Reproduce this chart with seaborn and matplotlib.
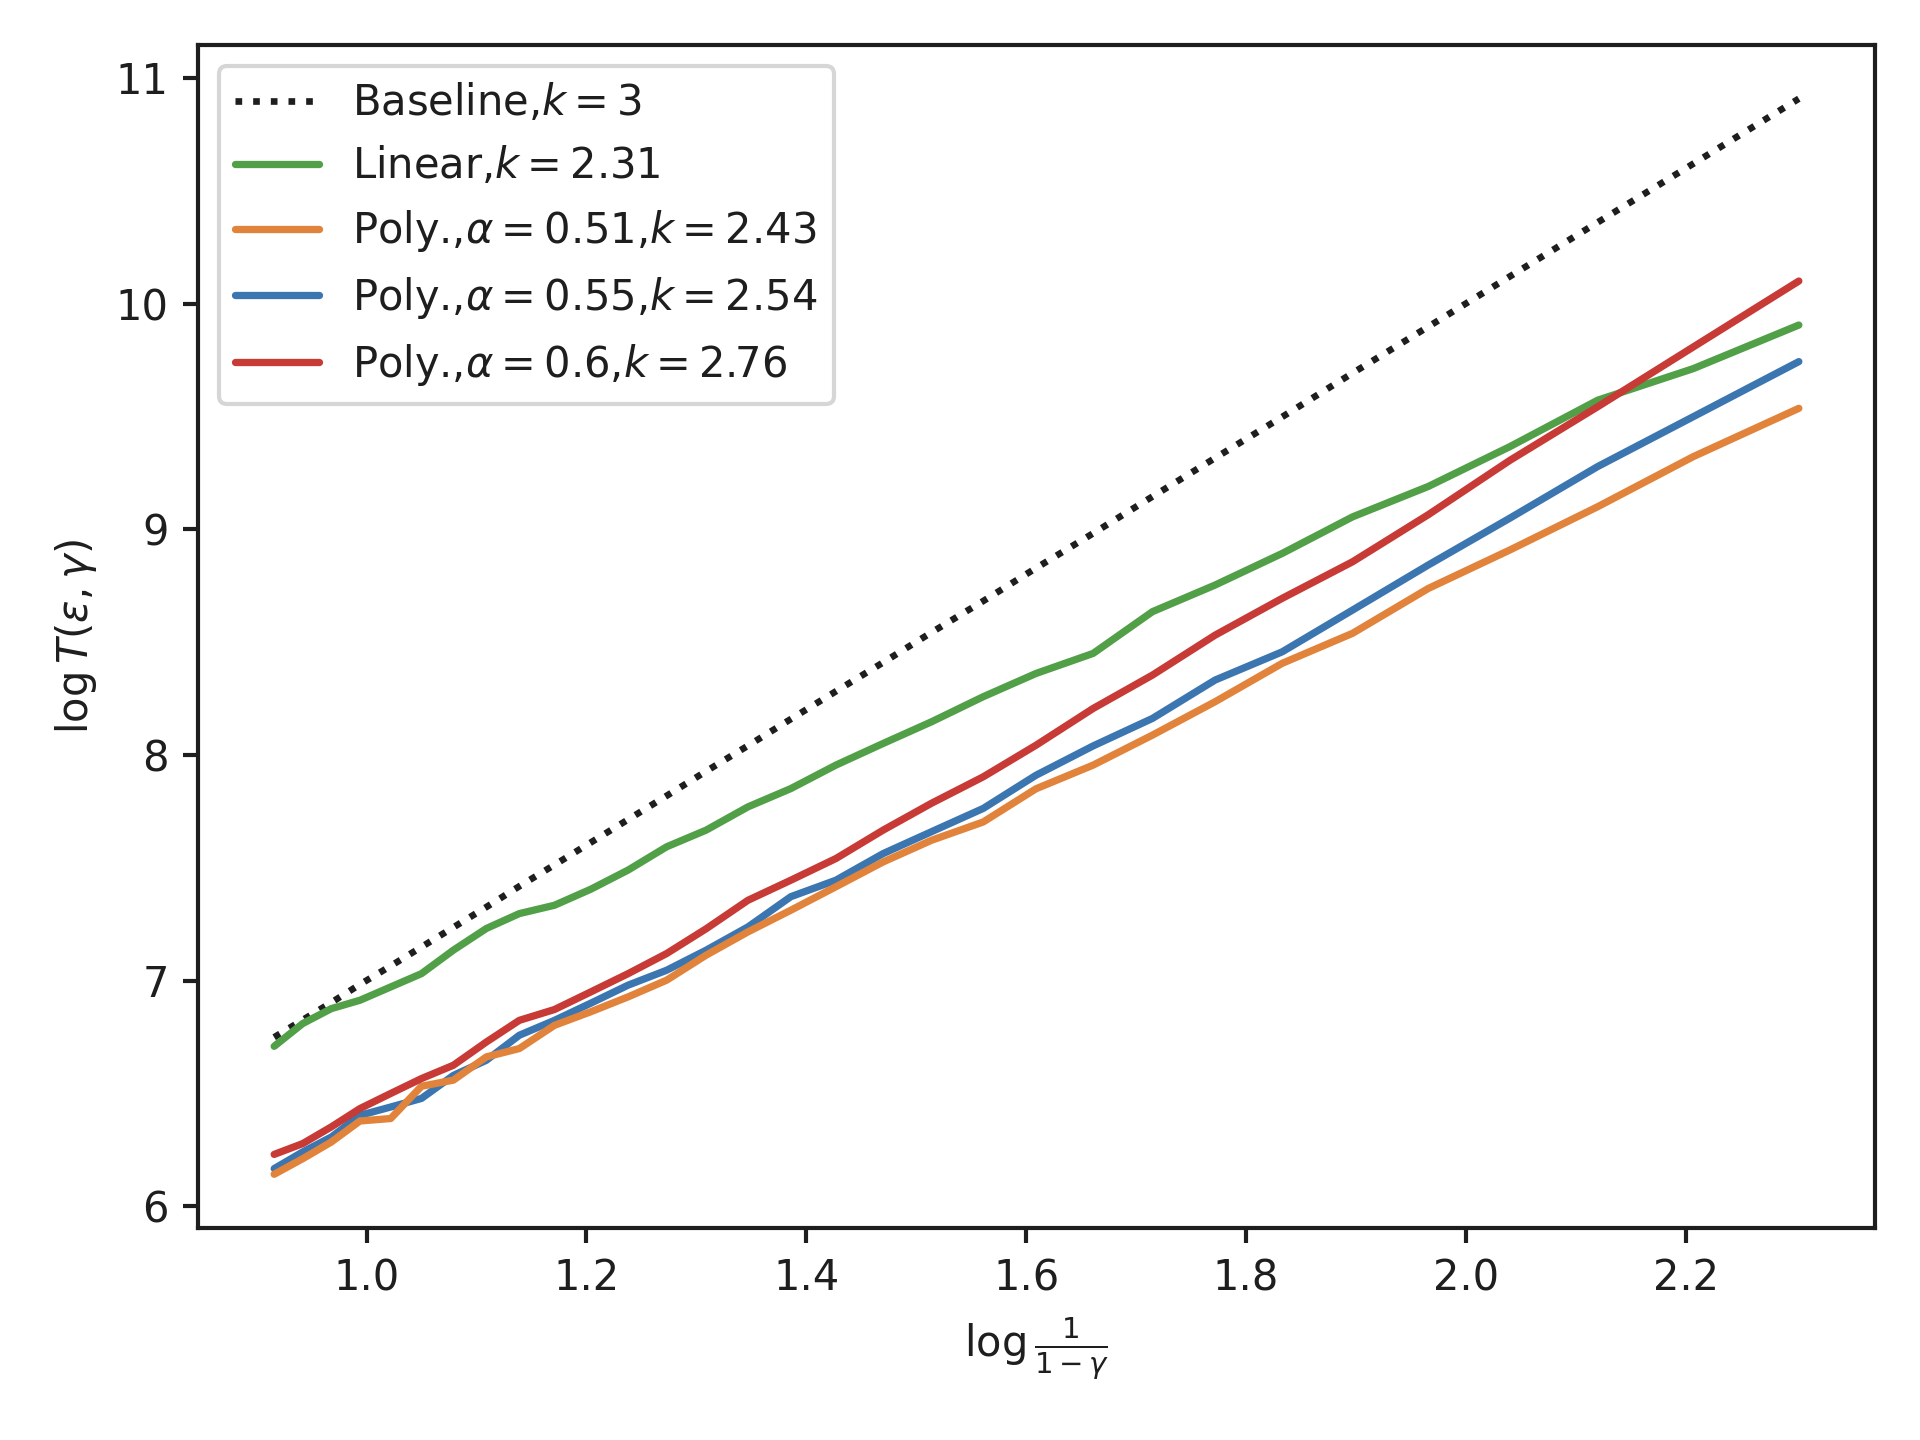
import matplotlib
matplotlib.use("Agg")
import matplotlib.pyplot as plt
import seaborn as sns
import pandas as pd

# x = log(1/(1-gamma)) for gamma = 0.60 ... 0.90
x_vals = [0.916, 0.942, 0.968, 0.994, 1.022, 1.050, 1.079, 1.109, 1.139, 1.171,
          1.204, 1.238, 1.273, 1.309, 1.347, 1.386, 1.427, 1.470, 1.514, 1.561,
          1.609, 1.661, 1.715, 1.772, 1.833, 1.897, 1.966, 2.040, 2.120, 2.207, 2.303]

baseline = [6.749, 6.826, 6.903, 6.983, 7.065, 7.149, 7.236, 7.326, 7.418, 7.513,
            7.612, 7.714, 7.819, 7.928, 8.041, 8.159, 8.282, 8.410, 8.543, 8.682,
            8.828, 8.982, 9.145, 9.316, 9.498, 9.692, 9.898, 10.120, 10.360, 10.620, 10.908]

linear = [6.709, 6.810, 6.876, 6.913, 6.972, 7.031, 7.135, 7.231, 7.297, 7.334,
          7.405, 7.490, 7.593, 7.667, 7.770, 7.851, 7.955, 8.051, 8.147, 8.258,
          8.361, 8.450, 8.635, 8.753, 8.893, 9.055, 9.190, 9.366, 9.572, 9.712, 9.905]

poly_051 = [6.142, 6.211, 6.285, 6.378, 6.389, 6.532, 6.559, 6.662, 6.699, 6.802,
            6.862, 6.928, 7.002, 7.113, 7.216, 7.312, 7.416, 7.526, 7.622, 7.703,
            7.850, 7.955, 8.088, 8.236, 8.406, 8.539, 8.738, 8.908, 9.100, 9.322, 9.536]

poly_055 = [6.167, 6.241, 6.307, 6.403, 6.440, 6.478, 6.580, 6.647, 6.758, 6.824,
            6.900, 6.980, 7.046, 7.135, 7.238, 7.372, 7.445, 7.563, 7.660, 7.763,
            7.910, 8.040, 8.162, 8.332, 8.457, 8.642, 8.842, 9.049, 9.278, 9.499, 9.743]

poly_060 = [6.230, 6.278, 6.352, 6.433, 6.500, 6.566, 6.625, 6.728, 6.824, 6.872,
            6.950, 7.031, 7.120, 7.230, 7.356, 7.445, 7.541, 7.667, 7.786, 7.903,
            8.043, 8.206, 8.354, 8.531, 8.694, 8.856, 9.065, 9.305, 9.543, 9.808, 10.100]

labels = [r"Baseline,$k=3$",
          r"Linear,$k=2.31$",
          r"Poly.,$\alpha=0.51$,$k=2.43$",
          r"Poly.,$\alpha=0.55$,$k=2.54$",
          r"Poly.,$\alpha=0.6$,$k=2.76$"]
series = [baseline, linear, poly_051, poly_055, poly_060]
colors = ["#1e1e1e", "#51A048", "#E1833A", "#3B76B0", "#C73A36"]
styles = [":", "-", "-", "-", "-"]
widths = [1.6, 1.75, 1.75, 1.75, 1.75]
zorders = [2.0, 2.1, 2.4, 2.2, 2.5]

sns.set_theme(style="ticks", rc={
    "font.size": 10,
    "axes.labelsize": 10,
    "xtick.labelsize": 10,
    "ytick.labelsize": 10,
    "legend.fontsize": 10,
    "axes.linewidth": 1.0,
    "xtick.major.width": 1.0,
    "ytick.major.width": 1.0,
    "xtick.major.size": 3.5,
    "ytick.major.size": 3.5,
    "axes.edgecolor": "#1e1e1e",
    "text.color": "#1e1e1e",
    "axes.labelcolor": "#1e1e1e",
    "xtick.color": "#1e1e1e",
    "ytick.color": "#1e1e1e",
    "mathtext.fontset": "dejavusans",
})
plt.rcParams["font.family"] = ["DejaVu Sans"]

fig, ax = plt.subplots(figsize=(6.4, 4.8), dpi=300)
fig.subplots_adjust(left=0.1031, right=0.9766, top=0.9688, bottom=0.1472)

for lab, ys, c, ls, lw, z in zip(labels, series, colors, styles, widths, zorders):
    df = pd.DataFrame({"x": x_vals, "y": ys})
    sns.lineplot(data=df, x="x", y="y", ax=ax, color=c, linestyle=ls,
                 linewidth=lw, label=lab, zorder=z)

ax.set_xticks([1.0, 1.2, 1.4, 1.6, 1.8, 2.0, 2.2])
ax.set_yticks([6, 7, 8, 9, 10, 11])
ax.set_xlabel(r"$\log\frac{1}{1-\gamma}$")
ax.set_ylabel(r"$\log T(\varepsilon,\gamma)$")
sns.despine(ax=ax, top=False, right=False)
ax.legend(loc="upper left", frameon=True, fancybox=True, framealpha=0.8,
          edgecolor="0.8", facecolor="white")

fig.savefig("out.png", dpi=300)
